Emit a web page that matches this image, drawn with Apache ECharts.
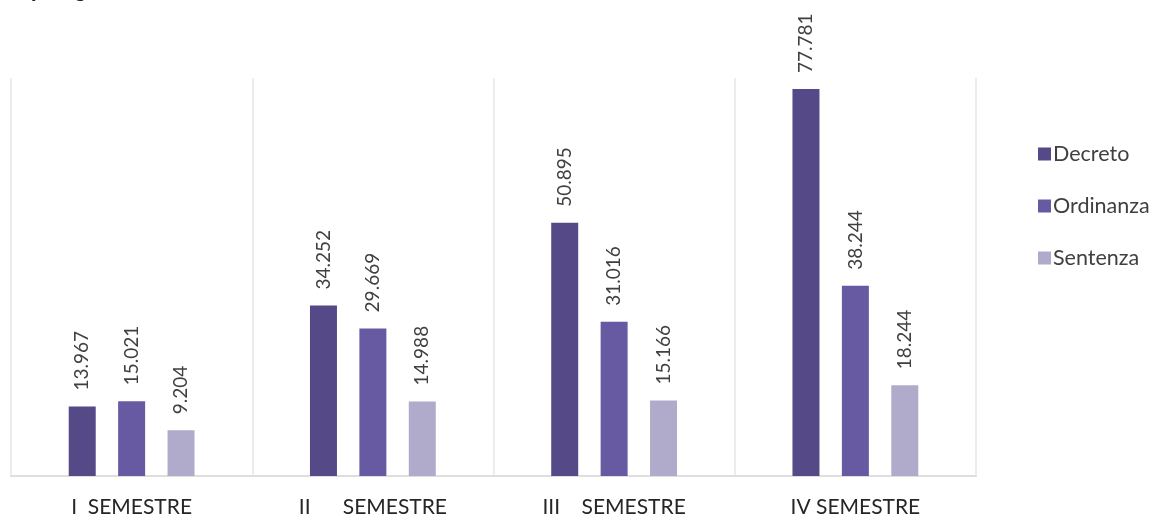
<!DOCTYPE html>
<html>
<head>
<meta charset="utf-8">
<script src="https://cdn.jsdelivr.net/npm/echarts@6/dist/echarts.min.js"></script>
<style>
  html, body { margin: 0; padding: 0; background: #ffffff; }
  #chart { width: 1153px; height: 518px; }
</style>
</head>
<body>
<div id="chart"></div>
<script>
// Atti per semestre e tipologia
const categories = ['I  SEMESTRE', 'II      SEMESTRE', 'III    SEMESTRE', 'IV SEMESTRE'];
const seriesNames = ['Decreto', 'Ordinanza', 'Sentenza'];
const decreto = [13967, 34252, 50895, 77781];
const ordinanza = [15021, 29669, 31016, 38244];
const sentenza = [9204, 14988, 15166, 18244];
const colors = ['#554a87', '#675aa3', '#b0abcb'];

const FONT = 'Lato, "Noto Sans", sans-serif';

// thousands separated with a dot
function fmt(v) {
  return String(Math.round(v)).replace(/\B(?=(\d{3})+(?!\d))/g, '.');
}

function barSeries(name, values, color) {
  return {
    name: name,
    type: 'bar',
    data: values,
    barWidth: 27,
    barGap: '83%',
    itemStyle: { color: color },
    label: {
      show: true,
      position: 'top',
      distance: 16,
      rotate: 90,
      align: 'left',
      verticalAlign: 'middle',
      color: '#404040',
      fontFamily: FONT,
      fontSize: 19,
      formatter: p => fmt(p.value)
    }
  };
}

const chart = echarts.init(document.getElementById('chart'), null, { renderer: 'canvas' });
chart.setOption({
  animation: false,
  backgroundColor: '#ffffff',
  title: {
    text: 'Tipologia di atto',
    left: 8,
    top: -28,
    textStyle: {
      fontFamily: FONT,
      fontSize: 24,
      fontWeight: 'bold',
      fontStyle: 'italic',
      color: '#262626'
    }
  },
  legend: {
    orient: 'vertical',
    left: 1033,
    top: 138,
    itemWidth: 13,
    itemHeight: 13,
    itemGap: 30,
    icon: 'rect',
    textStyle: { fontFamily: FONT, fontSize: 21.5, color: '#404040', padding: [0, 0, 0, -3] },
    data: seriesNames
  },
  grid: { left: 11, right: 177, top: 78, bottom: 40, containLabel: false },
  xAxis: {
    type: 'category',
    data: categories,
    boundaryGap: true,
    axisLine: { show: true, lineStyle: { color: '#dedede', width: 2 } },
    axisTick: { show: false },
    splitLine: { show: true, lineStyle: { color: '#ececec', width: 2 } },
    axisLabel: {
      margin: 21,
      color: '#262626',
      fontFamily: FONT,
      fontSize: 21
    }
  },
  yAxis: {
    type: 'value',
    min: 0,
    max: 80000,
    show: false,
    splitLine: { show: false }
  },
  series: [
    barSeries(seriesNames[0], decreto, colors[0]),
    barSeries(seriesNames[1], ordinanza, colors[1]),
    barSeries(seriesNames[2], sentenza, colors[2])
  ]
});
</script>
</body>
</html>
